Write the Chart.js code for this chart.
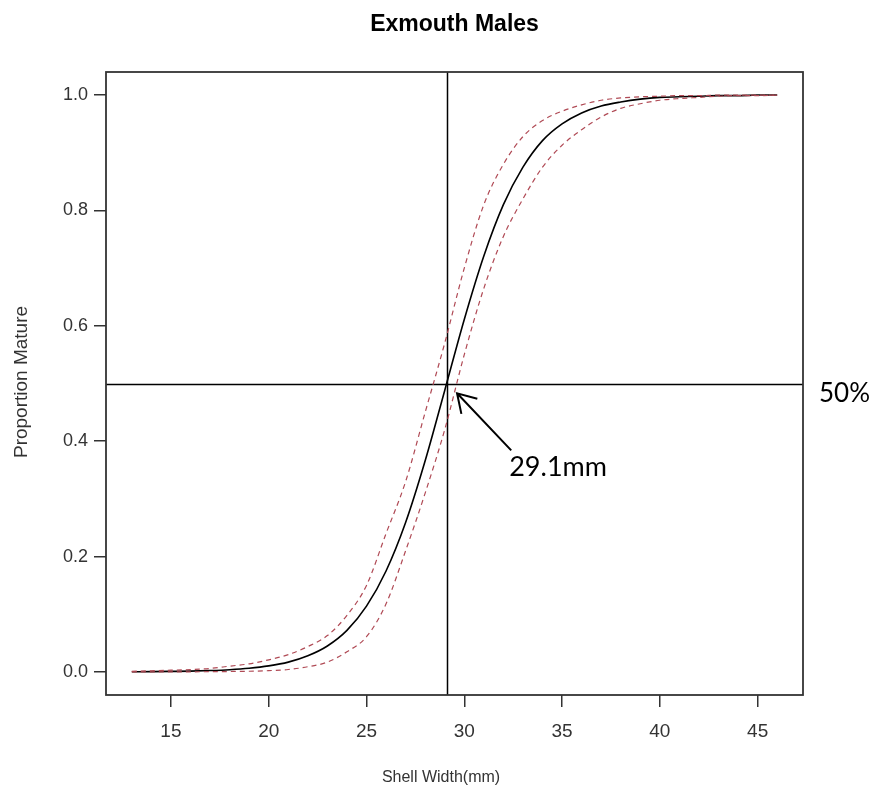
<!DOCTYPE html>
<html>
<head>
<meta charset="utf-8">
<title>Exmouth Males</title>
<script src="https://cdn.jsdelivr.net/npm/chart.js@4.4.1/dist/chart.umd.min.js"></script>
<style>
  html, body { margin: 0; padding: 0; background: #fff; }
  #wrap { width: 874px; height: 796px; }
</style>
</head>
<body>
<div id="wrap"><canvas id="mycanvas" width="874" height="796"></canvas></div>
<script>
var widths = [13, 14, 15, 16, 17, 18, 19, 20, 21, 22, 23, 24, 25, 26, 27, 28, 29, 30,
              31, 32, 33, 34, 35, 36, 37, 38, 39, 40, 41, 42, 43, 44, 45, 46];

// fitted proportion mature
var fitted = [0.0003, 0.0005, 0.0009, 0.0014, 0.0024, 0.0039, 0.0064, 0.0105, 0.017, 0.028,
              0.045, 0.072, 0.114, 0.175, 0.259, 0.366, 0.488, 0.611, 0.721, 0.810,
              0.875, 0.921, 0.950, 0.969, 0.981, 0.988, 0.993, 0.996, 0.997, 0.998,
              0.999, 0.999, 1.0, 1.0];

// confidence band (upper / lower)
var upperBand = [0.001, 0.002, 0.003, 0.004, 0.006, 0.010, 0.014, 0.021, 0.030, 0.044,
                 0.063, 0.098, 0.150, 0.240, 0.330, 0.450, 0.570, 0.700, 0.810, 0.880,
                 0.928, 0.956, 0.972, 0.983, 0.991, 0.995, 0.997, 0.998, 0.999, 0.999,
                 1.0, 1.0, 1.0, 1.0];
var lowerBand = [0.0, 0.0001, 0.0001, 0.0002, 0.0004, 0.0007, 0.0012, 0.0022, 0.0042, 0.009,
                 0.017, 0.035, 0.061, 0.118, 0.210, 0.310, 0.420, 0.550, 0.665, 0.755,
                 0.820, 0.875, 0.913, 0.940, 0.962, 0.977, 0.985, 0.991, 0.994, 0.996,
                 0.998, 0.999, 0.999, 1.0];

var xTicks = [15, 20, 25, 30, 35, 40, 45];
var yTicks = [0.0, 0.2, 0.4, 0.6, 0.8, 1.0];

// size at 50% maturity
var l50 = 29.1;
var halfLevel = 0.5;
var arrowFrom = { x: 32.4, y: 0.384 };
var arrowTo = { x: 29.63, y: 0.483 };

var axisFont = '"Liberation Sans", Arial, sans-serif';

function pts(vals) {
    return widths.map(function(w, i) { return { x: w, y: vals[i] }; });
}

var extras = {
    id: 'extras',
    beforeDatasetsDraw: function(chart) {
        var ctx = chart.ctx, a = chart.chartArea;
        var xs = chart.scales.x, ys = chart.scales.y;
        ctx.save();
        ctx.strokeStyle = '#000';
        ctx.lineWidth = 1.5;
        var vx = Math.round(xs.getPixelForValue(l50)) + 0.5;
        var hy = Math.round(ys.getPixelForValue(halfLevel)) + 0.5;
        ctx.beginPath();
        ctx.moveTo(vx, a.top); ctx.lineTo(vx, a.bottom);
        ctx.moveTo(a.left, hy); ctx.lineTo(a.right, hy);
        ctx.stroke();
        ctx.restore();
    },
    afterDraw: function(chart) {
        var ctx = chart.ctx, a = chart.chartArea;
        var xs = chart.scales.x, ys = chart.scales.y;
        ctx.save();
        // box
        ctx.strokeStyle = '#333';
        ctx.lineWidth = 1.8;
        ctx.strokeRect(a.left, a.top, a.right - a.left, a.bottom - a.top);

        // title
        ctx.fillStyle = '#000';
        ctx.font = 'bold 23px ' + axisFont;
        ctx.textAlign = 'center';
        ctx.textBaseline = 'middle';
        ctx.fillText('Exmouth Males', (a.left + a.right) / 2, 25);

        // axis titles
        ctx.fillStyle = '#333';
        ctx.font = '16px ' + axisFont;
        ctx.fillText('Shell Width(mm)', 441, 778);
        ctx.save();
        ctx.translate(22, 382);
        ctx.rotate(-Math.PI / 2);
        ctx.font = '19px ' + axisFont;
        ctx.fillText('Proportion Mature', 0, 0);
        ctx.restore();

        // arrow
        var x1 = xs.getPixelForValue(arrowFrom.x), y1 = ys.getPixelForValue(arrowFrom.y);
        var x2 = xs.getPixelForValue(arrowTo.x), y2 = ys.getPixelForValue(arrowTo.y);
        ctx.strokeStyle = '#000';
        ctx.lineWidth = 2;
        ctx.beginPath();
        ctx.moveTo(x1, y1); ctx.lineTo(x2, y2);
        var ang = Math.atan2(y2 - y1, x2 - x1);
        var head = 21;
        ctx.moveTo(x2 - head * Math.cos(ang - 0.55), y2 - head * Math.sin(ang - 0.55));
        ctx.lineTo(x2, y2);
        ctx.lineTo(x2 - head * Math.cos(ang + 0.55), y2 - head * Math.sin(ang + 0.55));
        ctx.stroke();

        // labels
        ctx.fillStyle = '#000';
        ctx.font = '27px Lato, "Open Sans", sans-serif';
        ctx.textAlign = 'left';
        ctx.fillText(l50 + 'mm', x1 - 2, y1 + 17);
        ctx.font = '26px Lato, "Open Sans", sans-serif';
        ctx.fillText('50%', a.right + 16, ys.getPixelForValue(halfLevel) + 10);
        ctx.restore();
    }
};

var dashed = '#b04a55';

new Chart(document.getElementById('mycanvas'), {
    type: 'line',
    data: {
        datasets: [
            { label: 'upper', data: pts(upperBand), borderColor: dashed, borderWidth: 1.2,
              borderDash: [5, 4], pointRadius: 0, cubicInterpolationMode: 'monotone', fill: false },
            { label: 'lower', data: pts(lowerBand), borderColor: dashed, borderWidth: 1.2,
              borderDash: [5, 4], pointRadius: 0, cubicInterpolationMode: 'monotone', fill: false },
            { label: 'fitted', data: pts(fitted), borderColor: '#000', borderWidth: 1.6,
              pointRadius: 0, cubicInterpolationMode: 'monotone', fill: false }
        ]
    },
    options: {
        responsive: false,
        animation: false,
        events: [],
        layout: { padding: { left: 0, top: 72, right: 71, bottom: 0 } },
        plugins: { legend: { display: false }, tooltip: { enabled: false } },
        scales: {
            x: {
                type: 'linear',
                min: 11.68, max: 47.32,
                afterFit: function(s) { s.height = 101; },
                afterBuildTicks: function(s) { s.ticks = xTicks.map(function(v) { return { value: v }; }); },
                grid: { display: true, drawOnChartArea: false, drawTicks: true, tickLength: 12, color: '#333', lineWidth: 1.5 },
                border: { display: false },
                ticks: { color: '#333', padding: 13, maxRotation: 0,
                         font: { family: axisFont, size: 19 } },
                title: { display: false }
            },
            y: {
                min: -0.04, max: 1.04,
                afterFit: function(s) { s.width = 106; },
                afterBuildTicks: function(s) { s.ticks = yTicks.map(function(v) { return { value: v }; }); },
                grid: { display: true, drawOnChartArea: false, drawTicks: true, tickLength: 12, color: '#333', lineWidth: 1.5 },
                border: { display: false },
                ticks: { color: '#333', padding: 6,
                         callback: function(v) { return Number(v).toFixed(1); },
                         font: { family: axisFont, size: 18 } },
                title: { display: false }
            }
        }
    },
    plugins: [extras]
});
</script>
</body>
</html>
